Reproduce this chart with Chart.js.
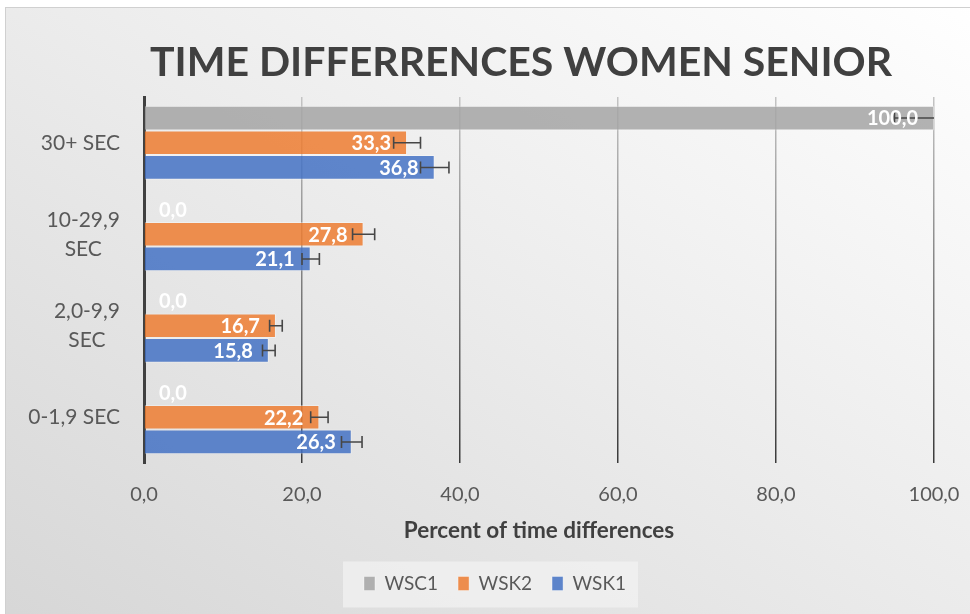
<!DOCTYPE html>
<html>
<head>
<meta charset="utf-8">
<script src="https://cdn.jsdelivr.net/npm/chart.js@4.4.1/dist/chart.umd.min.js"></script>
<style>
  html, body { margin: 0; padding: 0; background: #fff; overflow: hidden; }
  #frame {
    position: absolute; left: 5px; top: 7px; width: 990px; height: 630px;
    border: 1px solid #d0d0d0;
    background: linear-gradient(to bottom left, #ffffff 0%, #ebebeb 50%, #d6d6d6 100%);
  }
  #chart { position: absolute; left: 0; top: 0; }
</style>
</head>
<body>
<div id="frame"></div>
<canvas id="chart" width="970" height="614"></canvas>
<script>
// categories, top to bottom
const categories = ['30+ SEC', ['10-29,9', 'SEC'], ['2,0-9,9', 'SEC'], '0-1,9 SEC'];
const seriesNames = ['WSC1', 'WSK2', 'WSK1'];
const wsc1 = [100.0, 0.0, 0.0, 0.0];
const wsk2 = [33.3, 27.8, 16.7, 22.2];
const wsk1 = [36.8, 21.1, 15.8, 26.3];
// error bar half widths
const wsc1Err = [5.0, 0, 0, 0];
const wsk2Err = [1.7, 1.4, 0.8, 1.1];
const wsk1Err = [1.8, 1.1, 0.8, 1.3];
const xMin = 0, xMax = 100, xStep = 20;
const chartTitle = 'TIME DIFFERRENCES WOMEN SENIOR';
const xTitle = 'Percent of time differences';

const FONT = 'Lato';

function fmt(v) {
  return Number(v).toFixed(1).replace('.', ',');
}

// gridlines fade from light at the top to dark at the bottom
function gridGradient(ctx) {
  const chart = ctx.chart;
  const area = chart.chartArea;
  if (!area) return '#999';
  const g = chart.ctx.createLinearGradient(0, area.top, 0, area.bottom);
  g.addColorStop(0, '#c4c4c4');
  g.addColorStop(1, '#3a3a3a');
  return g;
}

const errorBars = {
  id: 'errorBars',
  afterDatasetsDraw(chart) {
    const {ctx, chartArea, scales: {x}} = chart;
    ctx.save();
    ctx.beginPath();
    ctx.rect(chartArea.left, chartArea.top - 10, chartArea.width, chartArea.height + 20);
    ctx.clip();
    ctx.strokeStyle = '#474747';
    ctx.lineWidth = 1.6;
    chart.data.datasets.forEach((ds, i) => {
      chart.getDatasetMeta(i).data.forEach((bar, j) => {
        const err = ds.errors[j];
        if (!err) return;
        const v = ds.data[j];
        const x0 = x.getPixelForValue(v - err);
        const x1 = x.getPixelForValue(v + err);
        const y = bar.y;
        ctx.beginPath();
        ctx.moveTo(x0, y); ctx.lineTo(x1, y);
        ctx.moveTo(x0, y - 6); ctx.lineTo(x0, y + 6);
        ctx.moveTo(x1, y - 6); ctx.lineTo(x1, y + 6);
        ctx.stroke();
      });
    });
    ctx.restore();
  }
};

const valueLabels = {
  id: 'valueLabels',
  afterDatasetsDraw(chart) {
    const {ctx} = chart;
    ctx.save();
    ctx.font = 'bold 20px ' + FONT;
    ctx.fillStyle = '#ffffff';
    ctx.textBaseline = 'middle';
    chart.data.datasets.forEach((ds, i) => {
      chart.getDatasetMeta(i).data.forEach((bar, j) => {
        const text = fmt(ds.data[j]);
        const w = ctx.measureText(text).width;
        if (bar.x - bar.base > w + 20) {
          ctx.textAlign = 'right';
          ctx.fillText(text, bar.x - 16, bar.y + 1);
        } else {
          ctx.textAlign = 'left';
          ctx.fillText(text, bar.base + 15, bar.y + 1);
        }
      });
    });
    ctx.restore();
  }
};

// wrapped category labels: block right aligned, lines centred in the block
const yLabels = {
  id: 'yLabels',
  afterDraw(chart) {
    const {ctx, scales: {y}} = chart;
    ctx.save();
    ctx.font = '21px ' + FONT;
    ctx.fillStyle = '#595959';
    ctx.textAlign = 'center';
    ctx.textBaseline = 'middle';
    const lineH = 29;
    categories.forEach((lab, i) => {
      const lines = Array.isArray(lab) ? lab : [lab];
      const blockW = Math.max(...lines.map(l => ctx.measureText(l).width));
      const cx = y.right - 24 - blockW / 2;
      const cy = y.getPixelForTick(i);
      lines.forEach((l, k) => {
        ctx.fillText(l, cx, cy + (k - (lines.length - 1) / 2) * lineH);
      });
    });
    ctx.restore();
  }
};

const mainTitle = {
  id: 'mainTitle',
  afterDraw(chart) {
    const {ctx} = chart;
    ctx.save();
    ctx.font = 'bold 41px ' + FONT;
    ctx.fillStyle = '#404040';
    ctx.textAlign = 'center';
    ctx.textBaseline = 'middle';
    ctx.fillText(chartTitle, 521, 63);
    ctx.restore();
  }
};

const legendBox = {
  id: 'legendBox',
  beforeDraw(chart) {
    const hb = chart.legend.legendHitBoxes;
    if (!hb || !hb.length) return;
    const last = hb[hb.length - 1];
    const cy = hb[0].top + hb[0].height / 2;
    const left = hb[0].left - 21;
    const right = last.left + last.width + 12;
    const ctx = chart.ctx;
    ctx.save();
    ctx.fillStyle = 'rgba(242,242,242,0.75)';
    ctx.fillRect(left, cy - 22, right - left, 46);
    ctx.restore();
  }
};

new Chart(document.getElementById('chart'), {
  type: 'bar',
  data: {
    labels: categories,
    datasets: [
      { label: seriesNames[0], data: wsc1, errors: wsc1Err,
        backgroundColor: 'rgba(165,165,165,0.85)', borderColor: 'rgba(255,255,255,0.35)', borderWidth: 1 },
      { label: seriesNames[1], data: wsk2, errors: wsk2Err,
        backgroundColor: 'rgba(237,125,49,0.85)', borderColor: 'rgba(255,255,255,0.35)', borderWidth: 1 },
      { label: seriesNames[2], data: wsk1, errors: wsk1Err,
        backgroundColor: 'rgba(68,114,196,0.85)', borderColor: 'rgba(255,255,255,0.35)', borderWidth: 1 }
    ]
  },
  options: {
    indexAxis: 'y',
    responsive: false,
    animation: false,
    categoryPercentage: 0.81,
    barPercentage: 1.0,
    layout: { padding: { left: 56, right: 36, top: 97, bottom: 11 } },
    scales: {
      x: {
        min: xMin, max: xMax,
        ticks: { stepSize: xStep, padding: 2, color: '#595959',
                 font: { family: FONT, size: 20 }, callback: v => fmt(v) },
        grid: { color: gridGradient, lineWidth: 1.5, drawTicks: true, tickLength: 18,
                tickColor: 'rgba(0,0,0,0)' },
        border: { display: false },
        title: { display: true, text: xTitle, color: '#404040',
                 font: { family: FONT, size: 22.5, weight: 'bold' }, padding: { top: 0, bottom: 10 } },
        afterFit(scale) { scale.height = 91; }
      },
      y: {
        grid: { display: false, drawTicks: false },
        border: { color: '#404040', width: 3 },
        ticks: { display: false },
        afterFit(scale) { scale.width = 88; }
      }
    },
    plugins: {
      legend: {
        position: 'bottom',
        labels: { boxWidth: 11, boxHeight: 14, padding: 20, color: '#595959',
                  font: { family: FONT, size: 19 } }
      },
      tooltip: { enabled: false }
    }
  },
  plugins: [legendBox, errorBars, valueLabels, yLabels, mainTitle]
});
</script>
</body>
</html>
